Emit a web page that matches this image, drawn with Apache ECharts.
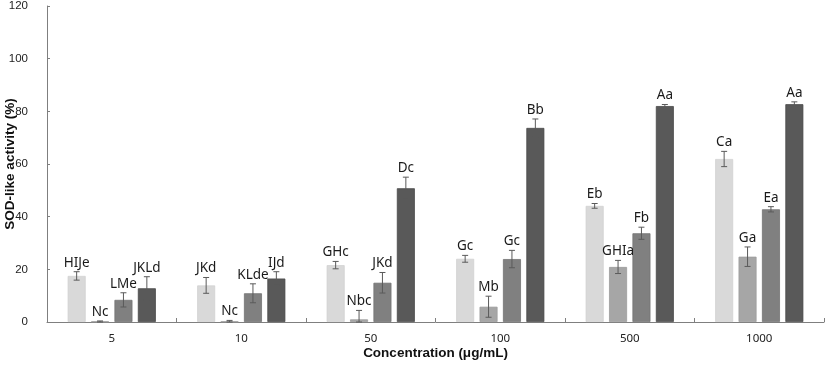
<!DOCTYPE html>
<html>
<head>
<meta charset="utf-8">
<script src="https://cdn.jsdelivr.net/npm/echarts@6/dist/echarts.min.js"></script>
<style>
html,body{margin:0;padding:0;background:#fff;}
#chart{width:827px;height:368px;}
</style>
</head>
<body>
<div id="chart"></div>
<script>
var categories = ['5', '10', '50', '100', '500', '1000'];
var yTicks = [0, 20, 40, 60, 80, 100, 120];

var values1 = [17.5, 13.9, 21.6, 24.0, 44.1, 61.9];
var errors1 = [1.6, 3.0, 1.4, 1.3, 0.9, 2.9];
var labels1 = ['HIJe', 'JKd', 'GHc', 'Gc', 'Eb', 'Ca'];

var values2 = [0.2, 0.2, 1.0, 5.8, 20.9, 24.8];
var errors2 = [0.2, 0.4, 3.4, 4.0, 2.5, 3.7];
var labels2 = ['Nc', 'Nc', 'Nbc', 'Mb', 'GHIa', 'Ga'];

var values3 = [8.4, 10.9, 14.9, 23.9, 33.7, 42.8];
var errors3 = [2.7, 3.6, 3.9, 3.3, 2.3, 1.0];
var labels3 = ['LMe', 'KLde', 'JKd', 'Gc', 'Fb', 'Ea'];

var values4 = [12.8, 16.5, 50.8, 73.7, 82.0, 82.7];
var errors4 = [4.4, 2.6, 4.2, 3.4, 0.6, 0.9];
var labels4 = ['JKLd', 'IJd', 'Dc', 'Bb', 'Aa', 'Aa'];

var colors = ['#d9d9d9', '#a6a6a6', '#808080', '#595959'];
var borders = ['#d2d2d2', '#9c9c9c', '#737373', '#4a4a4a'];

var BAR_W = 18;
var GAP_RATIO = 0.3;
var N = 4;
var step = BAR_W * (1 + GAP_RATIO);

var allValues = [values1, values2, values3, values4];
var allErrors = [errors1, errors2, errors3, errors4];
var allLabels = [labels1, labels2, labels3, labels4];

var series = [];
allValues.forEach(function (vals, i) {
  series.push({
    type: 'bar',
    name: 'S' + (i + 1),
    data: vals,
    barWidth: BAR_W,
    barGap: (GAP_RATIO * 100) + '%',
    itemStyle: { color: colors[i], borderColor: borders[i], borderWidth: 0.8 },
    silent: true,
    z: 2
  });
});
allValues.forEach(function (vals, i) {
  var data = vals.map(function (v, j) { return [j, v, allErrors[i][j], allLabels[i][j]]; });
  series.push({
    type: 'custom',
    name: 'E' + (i + 1),
    data: data,
    z: 5,
    silent: true,
    renderItem: function (params, api) {
      var idx = api.value(0);
      var v = api.value(1);
      var e = api.value(2);
      var lab = data[params.dataIndex][3];
      var off = (i - (N - 1) / 2) * step;
      var top = api.coord([idx, v + e]);
      var bot = api.coord([idx, Math.max(0, v - e)]);
      var x = top[0] + off;
      var cap = 3;
      var st = { stroke: '#5a5a5a', lineWidth: 1 };
      return {
        type: 'group',
        children: [
          { type: 'line', shape: { x1: x, y1: top[1], x2: x, y2: bot[1] }, style: st },
          { type: 'line', shape: { x1: x - cap, y1: top[1], x2: x + cap, y2: top[1] }, style: st },
          { type: 'line', shape: { x1: x - cap, y1: bot[1], x2: x + cap, y2: bot[1] }, style: st },
          { type: 'text', x: x, y: top[1] - 2,
            style: { text: lab, fill: '#1a1a1a', font: '13.5px "Noto Sans"', align: 'center', verticalAlign: 'bottom' } }
        ]
      };
    }
  });
});

var chart = echarts.init(document.getElementById('chart'), null, { renderer: 'canvas' });
chart.setOption({
  animation: false,
  backgroundColor: '#ffffff',
  grid: { left: 47, right: 3, top: 6, bottom: 46, containLabel: false, outerBoundsMode: 'none' },
  xAxis: {
    type: 'category',
    data: categories,
    name: 'Concentration (\u03bcg/mL)',
    nameLocation: 'middle',
    nameGap: 24,
    nameMoveOverlap: false,
    nameTextStyle: { fontFamily: 'Liberation Sans, Arial', fontWeight: 'bold', fontSize: 13.5, color: '#111' },
    axisLine: { lineStyle: { color: '#7f7f7f', width: 1 } },
    axisTick: { show: true, inside: true, length: 4, alignWithLabel: false, lineStyle: { color: '#7f7f7f' } },
    axisLabel: { fontFamily: 'Noto Sans', fontSize: 11.5, color: '#222', margin: 11 },
    splitLine: { show: false }
  },
  yAxis: {
    type: 'value',
    min: yTicks[0],
    max: yTicks[yTicks.length - 1],
    interval: yTicks[1] - yTicks[0],
    name: 'SOD-like activity (%)',
    nameLocation: 'middle',
    nameGap: 30,
    nameMoveOverlap: false,
    nameTextStyle: { fontFamily: 'Liberation Sans, Arial', fontWeight: 'bold', fontSize: 13.5, color: '#111' },
    axisLine: { show: true, lineStyle: { color: '#7f7f7f', width: 1 } },
    axisTick: { show: true, inside: true, length: 3, lineStyle: { color: '#7f7f7f' } },
    axisLabel: { fontFamily: 'Liberation Sans, Arial', fontSize: 11.5, color: '#222', margin: 19 },
    splitLine: { show: false }
  },
  series: series
});
</script>
</body>
</html>
